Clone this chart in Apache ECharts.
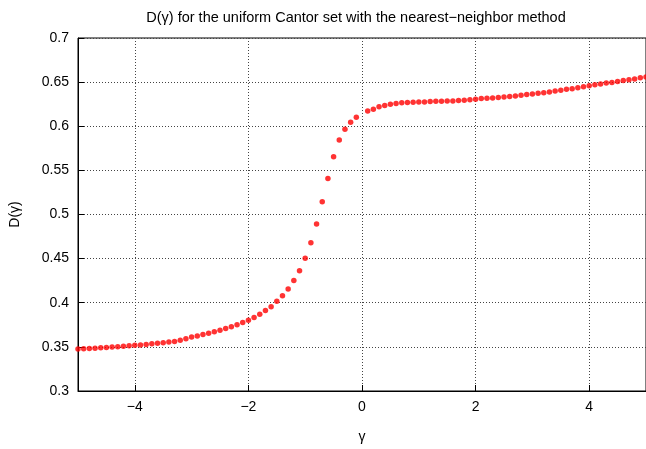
<!DOCTYPE html>
<html>
<head>
<meta charset="utf-8">
<script src="https://cdn.jsdelivr.net/npm/echarts@6/dist/echarts.min.js"></script>
<style>
html,body{margin:0;padding:0;background:#fff;}
#chart{width:646px;height:449px;}
</style>
</head>
<body>
<div id="chart"></div>
<script>
const titleText = 'D(\u03b3) for the uniform Cantor set with the nearest\u2212neighbor method';
const xName = '\u03b3';
const yName = 'D(\u03b3)';

const gammaValues = [
  -5.0,-4.9,-4.8,-4.7,-4.6,-4.5,-4.4,-4.3,-4.2,-4.1,
  -4.0,-3.9,-3.8,-3.7,-3.6,-3.5,-3.4,-3.3,-3.2,-3.1,
  -3.0,-2.9,-2.8,-2.7,-2.6,-2.5,-2.4,-2.3,-2.2,-2.1,
  -2.0,-1.9,-1.8,-1.7,-1.6,-1.5,-1.4,-1.3,-1.2,-1.1,
  -1.0,-0.9,-0.8,-0.7,-0.6,-0.5,-0.4,-0.3,-0.2,-0.1,
  0.1,0.2,0.3,0.4,0.5,0.6,0.7,0.8,0.9,1.0,
  1.1,1.2,1.3,1.4,1.5,1.6,1.7,1.8,1.9,2.0,
  2.1,2.2,2.3,2.4,2.5,2.6,2.7,2.8,2.9,3.0,
  3.1,3.2,3.3,3.4,3.5,3.6,3.7,3.8,3.9,4.0,
  4.1,4.2,4.3,4.4,4.5,4.6,4.7,4.8,4.9,5.0
];

const dValues = [
  0.3475,0.3478,0.3481,0.3485,0.3489,0.3493,0.3498,0.3502,0.3507,0.3512,
  0.3517,0.3522,0.3528,0.3534,0.3540,0.3547,0.3554,0.3561,0.3576,0.3593,
  0.3611,0.3624,0.3639,0.3654,0.3670,0.3688,0.3707,0.3727,0.3751,0.3776,
  0.3803,0.3833,0.3871,0.3911,0.3956,0.4016,0.4080,0.4155,0.4251,0.4363,
  0.4504,0.4680,0.4893,0.5144,0.5409,0.5654,0.5843,0.5966,0.6045,0.6102,
  0.6172,0.6194,0.6220,0.6235,0.6250,0.6258,0.6265,0.6269,0.6272,0.6276,
  0.6276,0.6280,0.6284,0.6284,0.6287,0.6287,0.6291,0.6295,0.6300,0.6306,
  0.6314,0.6317,0.6321,0.6325,0.6332,0.6336,0.6343,0.6351,0.6359,0.6365,
  0.6373,0.6381,0.6388,0.6399,0.6407,0.6418,0.6426,0.6437,0.6448,0.6460,
  0.6471,0.6478,0.6489,0.6497,0.6508,0.6519,0.6527,0.6534,0.6549,0.6558
];

const xTicks = [-4, -2, 0, 2, 4];
const xRange = [-5, 5];
const yRange = [0.3, 0.7];
const yStep = 0.05;

const points = gammaValues.map((g, i) => [g, dValues[i]]);
const font = '"Liberation Sans", Arial, Helvetica, sans-serif';

const chart = echarts.init(document.getElementById('chart'), null, {renderer: 'canvas'});
chart.setOption({
  animation: false,
  backgroundColor: '#ffffff',
  title: {
    text: titleText,
    left: 351,
    textAlign: 'center',
    top: 5,
    textStyle: {fontFamily: font, fontSize: 14.5, fontWeight: 'normal', color: '#000'}
  },
  grid: {
    left: 78, top: 38, right: -2, bottom: 55,
    show: true, borderColor: '#000', borderWidth: 1, backgroundColor: 'transparent'
  },
  xAxis: {
    type: 'value',
    min: xRange[0], max: xRange[1], interval: 1,
    name: xName, nameLocation: 'middle', nameGap: 39,
    nameTextStyle: {fontFamily: font, fontSize: 14, color: '#000'},
    axisLine: {show: true, onZero: false, lineStyle: {color: '#000', width: 1}},
    axisTick: {show: true, inside: true, length: 6, lineStyle: {color: '#000'}, customValues: xTicks},
    axisLabel: {
      fontFamily: font, fontSize: 14, color: '#000', margin: 9,
      customValues: xTicks,
      formatter: v => String(Math.round(v)).replace('-', '\u2212')
    },
    splitLine: {show: true, lineStyle: {color: '#444', type: [1, 2], width: 1}}
  },
  yAxis: {
    type: 'value',
    min: yRange[0], max: yRange[1], interval: yStep,
    name: yName, nameLocation: 'middle', nameGap: 56, nameRotate: 90,
    nameTextStyle: {fontFamily: font, fontSize: 14, color: '#000'},
    axisLine: {show: true, onZero: false, lineStyle: {color: '#000', width: 1}},
    axisTick: {show: true, inside: true, length: 6, lineStyle: {color: '#000'}},
    axisLabel: {
      fontFamily: font, fontSize: 14, color: '#000', margin: 9,
      formatter: v => String(parseFloat(v.toFixed(2)))
    },
    splitLine: {show: true, lineStyle: {color: '#444', type: [1, 2], width: 1}}
  },
  series: [{
    type: 'scatter',
    data: points,
    symbol: 'circle',
    symbolSize: 5.5,
    itemStyle: {color: '#ff0000'},
    clip: true
  }]
});
</script>
</body>
</html>
